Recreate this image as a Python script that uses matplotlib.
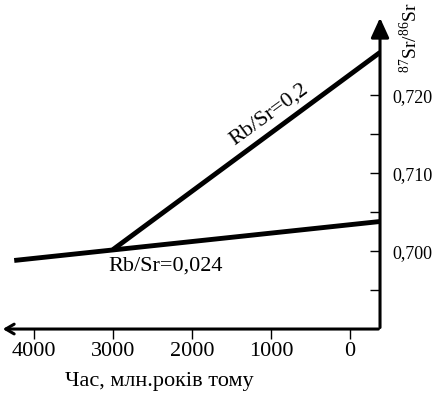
import matplotlib
matplotlib.use("Agg")
import matplotlib.pyplot as plt
from matplotlib.ticker import FixedLocator, FuncFormatter

plt.rcParams['font.family'] = ['Liberation Serif', 'DejaVu Serif']
plt.rcParams['mathtext.fontset'] = 'custom'
plt.rcParams['mathtext.rm'] = 'Liberation Serif'

# lines: time (Ma ago), 87Sr/86Sr
t_low = [4250, -380]
sr_low = [0.6988, 0.7038]
t_high = [3000, -380]
sr_high = [0.7002, 0.7255]

xticks = [4000, 3000, 2000, 1000, 0]
yticks = [0.700, 0.710, 0.720]
yminor = [0.695, 0.705, 0.715]

fig = plt.figure(figsize=(4.35, 3.95), dpi=100)
ax = fig.add_axes([0.0, 0.167, 0.8736, 0.795])
ax.set_xlim(4430, -380)
ax.set_ylim(0.690, 0.7303)

ax.plot(t_low, sr_low, color='black', lw=3.5, solid_capstyle='butt')
ax.plot(t_high, sr_high, color='black', lw=3.5, solid_capstyle='butt')

for s in ax.spines.values():
    s.set_visible(False)

# axes with arrows
ax.annotate('', xy=(0, 0), xytext=(1.003, 0), xycoords='axes fraction',
            arrowprops=dict(arrowstyle='->,head_length=0.6,head_width=0.35', lw=2.2, color='black'))
ax.annotate('', xy=(1, 1.0), xytext=(1, -0.004), xycoords='axes fraction',
            arrowprops=dict(arrowstyle='-|>,head_length=1.2,head_width=0.55', lw=2.2, color='black'))

ax.xaxis.set_ticks_position('bottom')
ax.set_xticks(xticks)
ax.set_xticklabels([str(v) for v in xticks], fontsize=16)
ax.tick_params(axis='x', direction='out', length=7, width=1, pad=2)

ax.yaxis.set_ticks_position('right')
ax.yaxis.set_major_locator(FixedLocator(yticks))
ax.yaxis.set_minor_locator(FixedLocator(yminor))
ax.yaxis.set_major_formatter(FuncFormatter(lambda v, p: ('%.3f' % v).replace('.', ',')))
ax.tick_params(axis='y', which='both', direction='in', length=7, width=1, pad=9, labelsize=13)

ax.text(1020, 0.7175, 'Rb/Sr=0,2', rotation=36, ha='center', va='center',
        rotation_mode='anchor', fontsize=16)
ax.text(2329, 0.6981, 'Rb/Sr=0,024', ha='center', va='center', fontsize=16)

fig.text(0.943, 0.905, '$^{87}$Sr/$^{86}$Sr', rotation=90, ha='center', va='center', fontsize=14)
fig.text(0.366, 0.033, 'Час, млн.років тому', ha='center', va='center', fontsize=16)

fig.savefig('out.png', dpi=100)
